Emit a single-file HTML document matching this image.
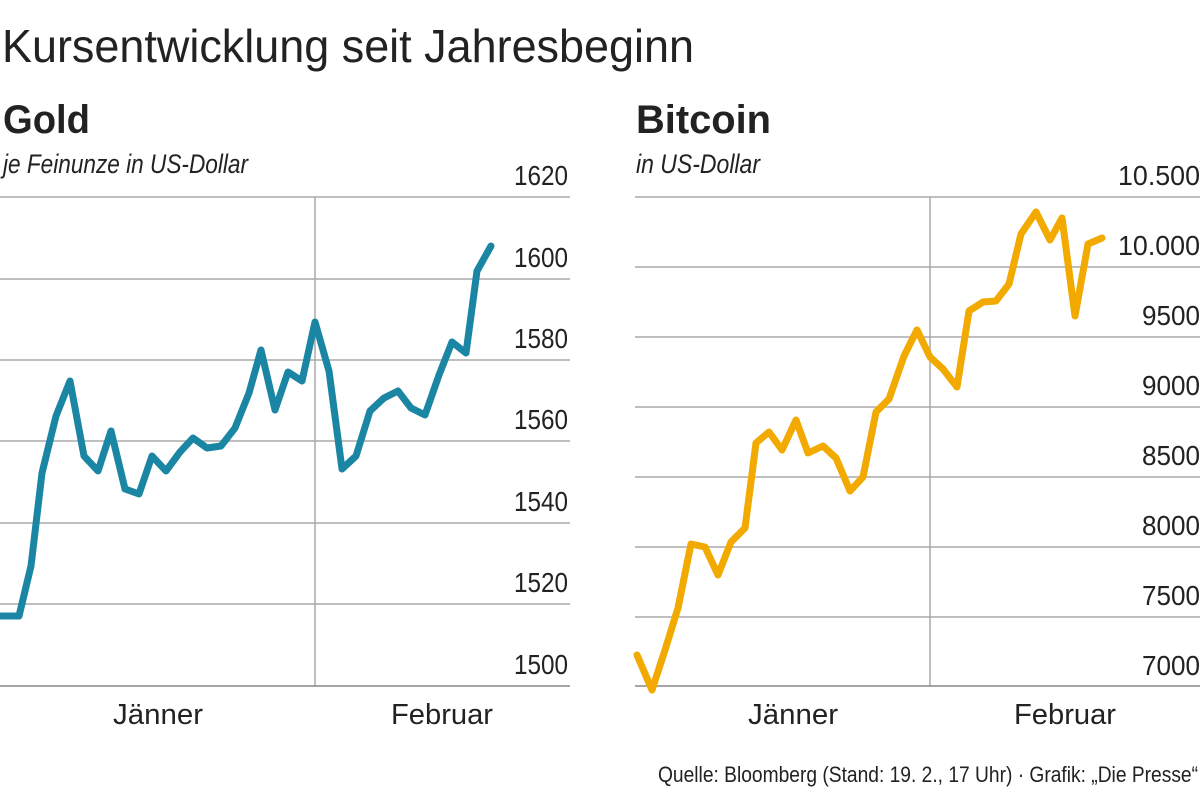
<!DOCTYPE html>
<html><head><meta charset="utf-8"><style>
html,body{margin:0;padding:0;background:#fff;}
svg{display:block;}
text{font-family:"Liberation Sans Narrow","Liberation Sans",sans-serif;fill:#222;}
</style></head><body>
<svg width="1200" height="788" viewBox="0 0 1200 788" xmlns="http://www.w3.org/2000/svg">
<text x="2" y="62" font-size="46" textLength="692" lengthAdjust="spacingAndGlyphs">Kursentwicklung seit Jahresbeginn</text>
<text x="3" y="133" font-size="40" font-weight="bold" textLength="87" lengthAdjust="spacingAndGlyphs">Gold</text>
<text x="3" y="173" font-size="27" font-style="italic" textLength="245" lengthAdjust="spacingAndGlyphs">je Feinunze in US-Dollar</text>
<text x="636" y="133" font-size="40" font-weight="bold" textLength="135" lengthAdjust="spacingAndGlyphs">Bitcoin</text>
<text x="636" y="173" font-size="27" font-style="italic" textLength="124" lengthAdjust="spacingAndGlyphs">in US-Dollar</text>
<g stroke="#aaa" stroke-width="1.5">
<line x1="0" x2="570" y1="197" y2="197"/><line x1="0" x2="570" y1="279" y2="279"/>
<line x1="0" x2="570" y1="360" y2="360"/><line x1="0" x2="570" y1="441" y2="441"/>
<line x1="0" x2="570" y1="523" y2="523"/><line x1="0" x2="570" y1="604" y2="604"/>
<line x1="315" x2="315" y1="197" y2="686"/>
<line x1="635" x2="1200" y1="197" y2="197"/><line x1="635" x2="1200" y1="267" y2="267"/>
<line x1="635" x2="1200" y1="337" y2="337"/><line x1="635" x2="1200" y1="407" y2="407"/>
<line x1="635" x2="1200" y1="477" y2="477"/><line x1="635" x2="1200" y1="547" y2="547"/>
<line x1="635" x2="1200" y1="617" y2="617"/>
<line x1="930" x2="930" y1="197" y2="686"/>
</g>
<g stroke="#888" stroke-width="1.5">
<line x1="0" x2="570" y1="686" y2="686"/><line x1="635" x2="1200" y1="686" y2="686"/>
</g>
<g font-size="28" text-anchor="end">
<text x="568" y="185" textLength="54" lengthAdjust="spacingAndGlyphs">1620</text><text x="568" y="267" textLength="54" lengthAdjust="spacingAndGlyphs">1600</text><text x="568" y="348" textLength="54" lengthAdjust="spacingAndGlyphs">1580</text>
<text x="568" y="429" textLength="54" lengthAdjust="spacingAndGlyphs">1560</text><text x="568" y="511" textLength="54" lengthAdjust="spacingAndGlyphs">1540</text><text x="568" y="592" textLength="54" lengthAdjust="spacingAndGlyphs">1520</text>
<text x="568" y="674" textLength="54" lengthAdjust="spacingAndGlyphs">1500</text>
<text x="1200" y="185" textLength="82" lengthAdjust="spacingAndGlyphs">10.500</text><text x="1200" y="255" textLength="82" lengthAdjust="spacingAndGlyphs">10.000</text><text x="1200" y="325" textLength="58" lengthAdjust="spacingAndGlyphs">9500</text>
<text x="1200" y="395" textLength="58" lengthAdjust="spacingAndGlyphs">9000</text><text x="1200" y="465" textLength="58" lengthAdjust="spacingAndGlyphs">8500</text><text x="1200" y="535" textLength="58" lengthAdjust="spacingAndGlyphs">8000</text>
<text x="1200" y="605" textLength="58" lengthAdjust="spacingAndGlyphs">7500</text><text x="1200" y="675" textLength="58" lengthAdjust="spacingAndGlyphs">7000</text>
</g>
<g font-size="29">
<text x="113" y="724" textLength="90" lengthAdjust="spacingAndGlyphs">Jänner</text><text x="391" y="724" textLength="102" lengthAdjust="spacingAndGlyphs">Februar</text>
<text x="748" y="724" textLength="90" lengthAdjust="spacingAndGlyphs">Jänner</text><text x="1014" y="724" textLength="102" lengthAdjust="spacingAndGlyphs">Februar</text>
</g>
<text x="658" y="782" font-size="22" textLength="540" lengthAdjust="spacingAndGlyphs">Quelle: Bloomberg (Stand: 19. 2., 17 Uhr) · Grafik: „Die Presse“</text>
<polyline fill="none" stroke="#1a86a4" stroke-width="7" stroke-linejoin="round" stroke-linecap="round" points="0,616 19,616 31,566 42,473 56,416 70,381 84,456 98,471 111,431 125,489 139,494 152,456 166,471 180,452 193,438 207,448 221,446 235,428 249,393 261,350 275,410 288,372 302,381 315,322 329,371 342,469 356,456 370,411 384,398 398,391 411,408 425,415 439,375 452,342 466,353 477,271 491,246"/>
<polyline fill="none" stroke="#f2a900" stroke-width="7" stroke-linejoin="round" stroke-linecap="round" points="637,655 652,690 665,650 678,608 691,544 705,547 718,575 731,542 745,528 756,443 769,432 782,450 796,420 808,453 823,446 836,458 850,491 863,477 876,412 889,399 904,356 917,330 930,357 943,369 957,387 969,311 983,302 996,301 1009,284 1021,234 1036,212 1050,240 1062,218 1075,316 1088,244 1102,238"/>
</svg>
</body></html>
